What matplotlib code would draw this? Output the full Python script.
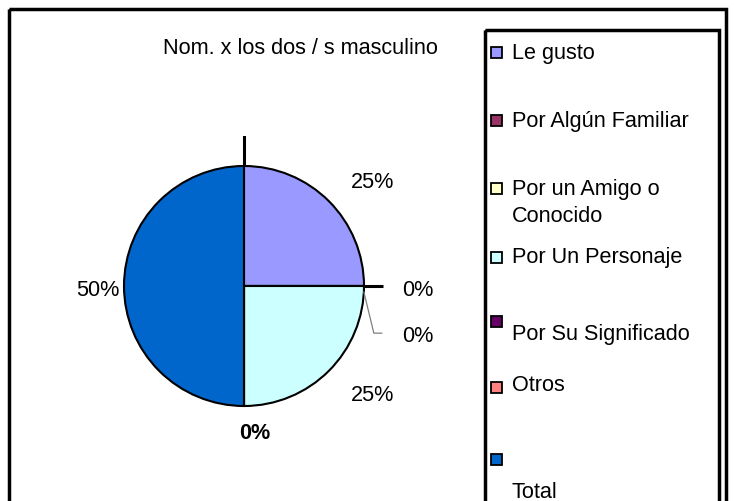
import matplotlib
matplotlib.use("Agg")
import matplotlib.pyplot as plt
from matplotlib.patches import Rectangle
import numpy as np

# ---- data ----
title = "Nom. x los dos / s masculino"
categories = ["Le gusto", "Por Algún Familiar", "Por un Amigo o\nConocido",
              "Por Un Personaje", "Por Su Significado", "Otros", "\nTotal"]
values = [25, 0, 0, 25, 0, 0, 50]
colors = ["#9999FF", "#993366", "#FFFFCC", "#CCFFFF", "#660066", "#FF8080", "#0066CC"]

# ---- layout (pixels / pie-radius units) ----
W, H = 734, 502
cx, cy, R = 244, 287, 122
label_pos = [(1.074, 0.869), (1.451, -0.025), (1.451, -0.41), (1.074, -0.902),
             (0.09, -1.221), None, (-1.221, -0.025)]
label_bold = [False, False, False, False, True, False, False]
legend_marker_y = [53, 121, 189, 258, 322, 388, 460]
legend_text_y = [53, 121, 203, 258, 335, 386, 479]

FONT = "Liberation Sans"
FS = 15.6

fig = plt.figure(figsize=(W / 100, H / 100), dpi=100)
bg = fig.add_axes([0, 0, 1, 1])
bg.set_xlim(0, W)
bg.set_ylim(H, 0)
bg.axis("off")

# outer frame
bg.add_patch(Rectangle((9, 10), 717, 520, fill=False, ec="black", lw=2.5))
# legend frame
bg.add_patch(Rectangle((485, 31), 234, 500, fill=False, ec="black", lw=2.5))

bg.text(300, 49, title, ha="center", va="center", fontsize=FS, family=FONT)

for lab, col, my, ty in zip(categories, colors, legend_marker_y, legend_text_y):
    bg.add_patch(Rectangle((490.5, my - 5.5), 11, 11, fc=col, ec="black", lw=1.3))
    bg.text(512, ty, lab, ha="left", va="center", fontsize=FS, family=FONT,
            linespacing=1.37)

# pie
span = 150
ax = fig.add_axes([(cx - span) / W, (H - cy - span) / H, 2 * span / W, 2 * span / H])
ax.set_xlim(-span / R, span / R)
ax.set_ylim(-span / R, span / R)
ax.set_aspect("equal")
ax.axis("off")
ax.pie(values, colors=colors, startangle=90, counterclock=False, radius=1.0,
       wedgeprops=dict(edgecolor="black", linewidth=1.5))

for v, pos, b in zip(values, label_pos, label_bold):
    if pos is None:
        continue
    ax.text(pos[0], pos[1], f"{v}%", ha="center", va="center", fontsize=FS,
            family=FONT, fontweight="bold" if b else "normal")

# leader lines
ax.plot([0, 0], [1.0, 1.26], color="black", lw=2.2, solid_capstyle="butt")
ax.plot([1.0, 1.16], [0, 0], color="black", lw=2.2, solid_capstyle="butt")
ax.plot([0.999, 1.082, 1.148], [-0.05, -0.393, -0.393], color="#808080", lw=0.9)

fig.savefig("out.png", dpi=100)
